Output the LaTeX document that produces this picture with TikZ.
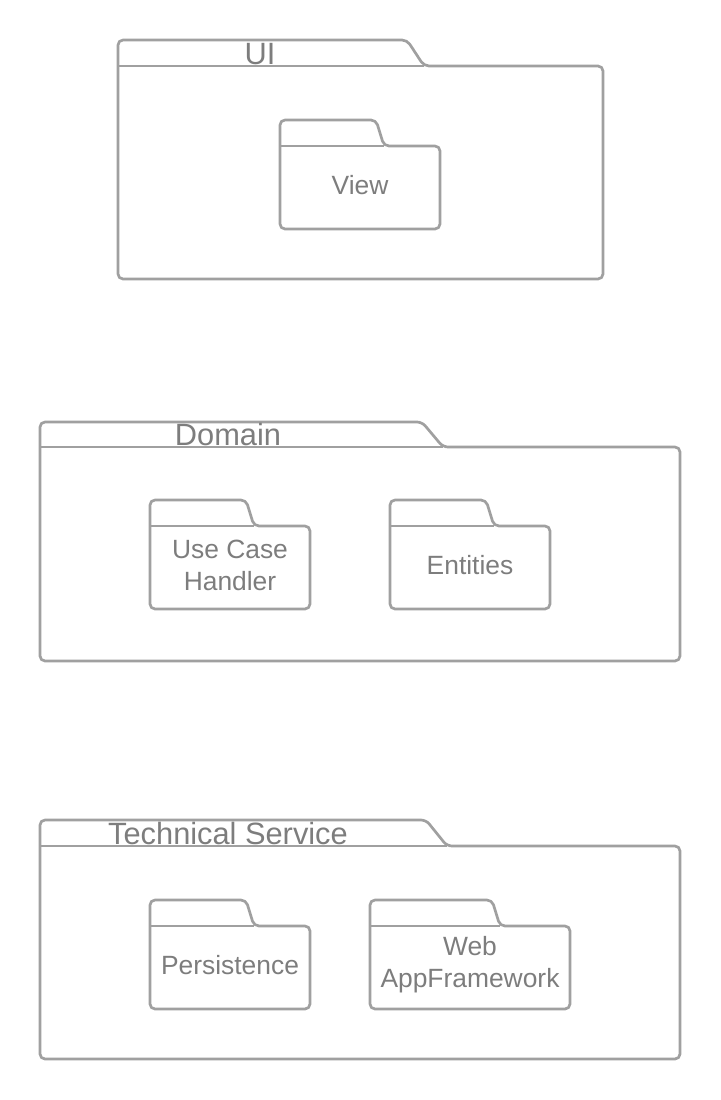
\documentclass[tikz,border=0pt]{standalone}
\usepackage{fontspec}
\setmainfont{Liberation Sans}
\usetikzlibrary{calc}
\definecolor{lineg}{RGB}{160,160,160}
\definecolor{textg}{RGB}{125,125,125}
\tikzset{
  folderline/.style={draw=lineg, line width=2.7pt, rounded corners=5pt, line join=round},
  sepline/.style={draw=lineg, line width=2.7pt},
  pkgtitle/.style={text=textg, font=\fontsize{30.8}{36}\selectfont, anchor=base, inner sep=0pt},
  pkgtext/.style={text=textg, font=\fontsize{26.4}{32}\selectfont, align=center, inner sep=0pt},
}
% #1 left, #2 tab top, #3 slope start x, #4 slope end x, #5 body top, #6 right, #7 bottom
\newcommand{\umlfolder}[7]{%
  \draw[folderline] (#1,#7) -- (#1,#2) -- (#3,#2) -- (#4,#5) -- (#6,#5) -- (#6,#7) -- cycle;
  \draw[sepline] (#1,#5) -- (#4,#5);
}
\begin{document}
\begin{tikzpicture}[x=1pt,y=-1pt]
\useasboundingbox (0,0) rectangle (720,1100);
% UI
\umlfolder{118}{40}{407}{424}{66}{603}{279}
\node[pkgtitle] (ui) at (260,64.5) {UI};
\umlfolder{280}{120}{376}{384}{146}{440}{229}
\node[pkgtext] (view) at (360,185) {View};
% Domain
\umlfolder{40}{422}{422}{443}{447}{680}{661}
\node[pkgtitle] (domain) at (228,445.5) {Domain};
\umlfolder{150}{500}{246}{254}{526}{310}{609}
\node[pkgtext] (uch) at (230,565) {Use Case\\Handler};
\umlfolder{390}{500}{486}{494}{526}{550}{609}
\node[pkgtext] (ent) at (470,565) {Entities};
% Technical Service
\umlfolder{40}{820}{426}{447}{846}{680}{1059}
\node[pkgtitle] (ts) at (228,844.5) {Technical Service};
\umlfolder{150}{900}{246}{254}{926}{310}{1009}
\node[pkgtext] (pers) at (230,965) {Persistence};
\umlfolder{370}{900}{492}{500}{926}{570}{1009}
\node[pkgtext] (web) at (470,965) {Web\\AppFramework};
\end{tikzpicture}
\end{document}
